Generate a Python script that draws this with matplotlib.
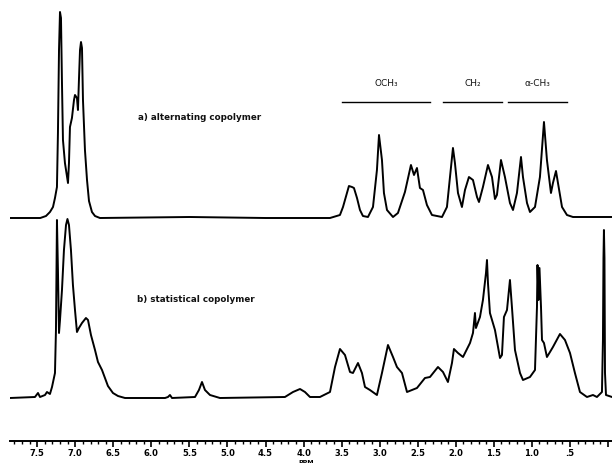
import matplotlib
matplotlib.use("Agg")
import matplotlib.pyplot as plt
from matplotlib.ticker import MultipleLocator, FixedLocator

# ---- data (ppm, intensity above baseline) ----
ppm_a = [7.86, 7.46, 7.385, 7.333, 7.293, 7.267, 7.241, 7.228, 7.214, 7.201, 7.188,
         7.175, 7.162, 7.136, 7.116, 7.096, 7.083, 7.070, 7.044, 7.017, 7.004, 6.978,
         6.965, 6.952, 6.938, 6.925, 6.912, 6.899, 6.873, 6.846, 6.820, 6.781, 6.741,
         6.676, 5.5, 4.5, 3.653, 3.522, 3.482, 3.430, 3.404, 3.364, 3.338, 3.298,
         3.259, 3.220, 3.154, 3.088, 3.036, 3.009, 2.970, 2.944, 2.904, 2.825, 2.760,
         2.668, 2.589, 2.549, 2.510, 2.471, 2.431, 2.379, 2.313, 2.181, 2.116, 2.076,
         2.037, 2.011, 1.971, 1.919, 1.879, 1.827, 1.774, 1.721, 1.695, 1.643, 1.577,
         1.524, 1.485, 1.459, 1.406, 1.354, 1.288, 1.248, 1.196, 1.143, 1.117, 1.064,
         1.025, 0.959, 0.894, 0.841, 0.802, 0.749, 0.723, 0.683, 0.657, 0.604, 0.539,
         0.460, -0.053]
int_a = [0, 0, 2, 6, 11, 20, 31, 85, 168, 206, 200,
         135, 78, 55, 45, 35, 55, 91, 100, 118, 123, 120,
         108, 138, 168, 176, 170, 118, 68, 38, 17, 6, 2,
         0, 1, 0, 0, 3, 11, 25, 32, 31, 30, 20,
         8, 2, 1, 11, 48, 83, 58, 25, 8, 1, 5,
         26, 53, 43, 50, 30, 28, 13, 3, 1, 11, 41,
         70, 55, 25, 11, 28, 41, 38, 21, 16, 31, 53,
         41, 19, 23, 58, 41, 15, 8, 25, 61, 41, 15,
         6, 11, 41, 96, 58, 25, 35, 47, 35, 11, 3,
         1, 1]

ppm_b = [7.858, 7.530, 7.490, 7.464, 7.398, 7.372, 7.333, 7.306, 7.267, 7.254, 7.241,
         7.228, 7.214, 7.201, 7.175, 7.149, 7.122, 7.103, 7.083, 7.057, 7.031, 7.004,
         6.978, 6.952, 6.912, 6.860, 6.833, 6.794, 6.741, 6.702, 6.649, 6.610, 6.571,
         6.505, 6.439, 6.347, 5.821, 5.782, 5.756, 5.729, 5.427, 5.375, 5.335, 5.296,
         5.230, 5.099, 4.245, 4.139, 4.047, 3.982, 3.916, 3.785, 3.653, 3.587, 3.522,
         3.456, 3.390, 3.351, 3.285, 3.233, 3.193, 3.128, 3.036, 2.970, 2.891, 2.825,
         2.773, 2.707, 2.641, 2.510, 2.405, 2.339, 2.234, 2.168, 2.103, 2.050, 2.024,
         1.971, 1.905, 1.813, 1.774, 1.748, 1.735, 1.682, 1.643, 1.603, 1.590, 1.577,
         1.551, 1.485, 1.419, 1.393, 1.367, 1.327, 1.288, 1.262, 1.222, 1.156, 1.117,
         1.025, 0.959, 0.933, 0.926, 0.913, 0.900, 0.880, 0.867, 0.841, 0.802, 0.762,
         0.723, 0.631, 0.565, 0.499, 0.434, 0.368, 0.276, 0.197, 0.145, 0.079, 0.066,
         0.059, 0.053, 0.046, 0.039, 0.026, -0.053]
int_b = [0, 1, 5, 1, 3, 6, 4, 11, 25, 68, 178,
         128, 65, 78, 108, 148, 173, 179, 173, 148, 113, 88,
         66, 70, 75, 80, 78, 63, 48, 36, 28, 20, 12,
         5, 2, 0, 0, 1, 3, 0, 1, 8, 16, 8,
         3, 0, 1, 6, 9, 6, 1, 1, 6, 31, 49,
         43, 26, 25, 35, 25, 11, 8, 3, 25, 53, 41,
         31, 25, 6, 10, 20, 21, 31, 26, 16, 35, 49,
         45, 41, 55, 65, 85, 70, 81, 98, 125, 138, 115,
         85, 68, 40, 43, 81, 88, 118, 91, 48, 25, 18,
         21, 28, 91, 133, 98, 130, 91, 58, 55, 41, 46,
         51, 64, 58, 45, 25, 6, 1, 3, 1, 6, 58,
         140, 168, 140, 25, 3, 1]

offset_a = 180

major_ticks = [7.5, 7.0, 6.5, 6.0, 5.5, 5.0, 4.5, 4.0, 3.5, 3.0, 2.5, 2.0, 1.5, 1.0, 0.5, 0.0]
tick_labels = ["7.5", "7.0", "6.5", "6.0", "5.5", "5.0", "4.5", "4.0", "3.5", "3.0",
               "2.5", "2.0", "1.5", "1.0", ".5", ""]

groups = ["OCH\u2083", "CH\u2082", "\u03b1-CH\u2083"]
group_start = [3.496, 2.168, 1.314]
group_end = [2.339, 1.393, 0.539]

# ---- figure ----
fig = plt.figure(figsize=(6.12, 4.63), dpi=100)
ax = fig.add_axes([10 / 612, 22 / 463, 602 / 612, 441 / 463])
ax.set_xlim(7.858, -0.053)
ax.set_ylim(-43, 398)

lw = 1.4
ax.plot(ppm_a, [v + offset_a for v in int_a], color="black", lw=lw, solid_joinstyle="round")
ax.plot(ppm_b, int_b, color="black", lw=lw, solid_joinstyle="round")

ax.text(6.176, 280, "a) alternating copolymer", fontsize=6.3, ha="left", va="center",
        fontweight="bold", color="#111111")
ax.text(6.19, 99, "b) statistical copolymer", fontsize=6.3, ha="left", va="center",
        fontweight="bold", color="#111111")

for name, s, e in zip(groups, group_start, group_end):
    ax.plot([s, e], [296, 296], color="black", lw=1.0)
    ax.text((s + e) / 2, 314, name, fontsize=6.5, ha="center", va="center", color="#111111")

for side in ["top", "left", "right"]:
    ax.spines[side].set_visible(False)
ax.spines["bottom"].set_linewidth(1.4)
ax.set_yticks([])
ax.xaxis.set_major_locator(FixedLocator(major_ticks))
ax.set_xticklabels(tick_labels, fontsize=6, fontweight="bold")
ax.xaxis.set_minor_locator(MultipleLocator(0.1))
ax.tick_params(axis="x", which="major", length=4, width=1.2, direction="out", pad=1.5)
ax.tick_params(axis="x", which="minor", length=2.5, width=1.0, direction="out")

ax.text(3.97, -64, "PPM", fontsize=4.5, ha="center", va="center", fontweight="bold",
        clip_on=False)

fig.savefig("out.png", dpi=100)
